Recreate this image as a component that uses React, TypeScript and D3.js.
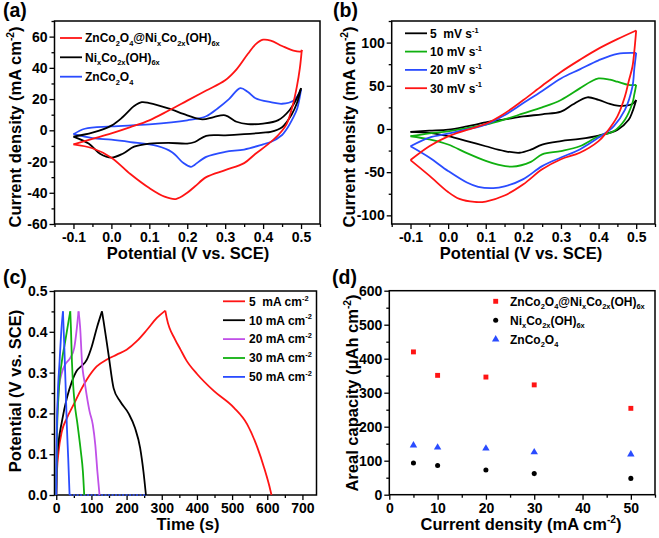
import React, { useEffect, useRef } from 'react';
import * as d3 from 'd3';

type Pt = [number, number];

// ---------- (a) CV of three electrodes at same scan rate ----------
const cvCompositeUpper: Pt[] = [[-0.1,-9],[-0.05,-5.5],[0,-2],[0.05,2],[0.1,6.4],[0.15,12.5],[0.2,19],[0.25,25.5],[0.3,32],[0.33,39],[0.36,49],[0.38,55],[0.4,58],[0.42,57.5],[0.45,54],[0.48,51],[0.5,50.5],[0.502,51.5]];
const cvCompositeLower: Pt[] = [[0.502,51.5],[0.497,40],[0.489,28],[0.477,15],[0.462,4],[0.44,-3],[0.41,-9.5],[0.38,-15],[0.35,-21],[0.3,-25.5],[0.25,-30],[0.22,-36],[0.2,-40],[0.17,-44],[0.14,-42.5],[0.1,-37],[0.05,-28],[0,-17.5],[-0.05,-11.5],[-0.1,-9]];
const cvNiCoUpper: Pt[] = [[-0.1,-4],[-0.05,-1.5],[0,3],[0.03,8.5],[0.06,15.5],[0.08,18],[0.1,17.4],[0.15,14],[0.2,9.6],[0.24,7],[0.27,8.5],[0.3,9.6],[0.33,5.5],[0.36,4],[0.4,4.3],[0.44,6.5],[0.47,13],[0.49,21],[0.5,27]];
const cvNiCoLower: Pt[] = [[0.5,27],[0.49,18],[0.475,10],[0.45,2],[0.42,-1],[0.4,-1.5],[0.35,-2.5],[0.3,-3.2],[0.25,-3.5],[0.22,-7.5],[0.2,-8.5],[0.15,-8],[0.1,-8.5],[0.06,-10.5],[0.03,-15],[0,-17.5],[-0.03,-15],[-0.06,-8.5],[-0.1,-4]];
const cvZnCoUpper: Pt[] = [[-0.1,-2.5],[-0.07,1],[0,2.5],[0.1,3.8],[0.2,6.4],[0.25,9],[0.28,14],[0.31,20],[0.34,27],[0.36,24.5],[0.38,20.5],[0.42,18],[0.45,17],[0.48,19],[0.5,26]];
const cvZnCoLower: Pt[] = [[0.5,26],[0.49,14],[0.48,8.5],[0.46,0],[0.45,-3],[0.42,-7.5],[0.4,-9],[0.35,-12.3],[0.3,-13.8],[0.25,-17],[0.22,-22],[0.21,-23.4],[0.19,-21],[0.16,-14],[0.12,-10],[0.05,-7.5],[0,-6],[-0.05,-5],[-0.1,-2.5]];

// ---------- (b) CV of composite at scan rates ----------
const cv30Upper: Pt[] = [[-0.1,-36],[-0.05,-20],[0,-8.5],[0.05,-1],[0.1,6],[0.15,18],[0.2,33.5],[0.25,50],[0.3,66],[0.35,80],[0.4,93],[0.45,104],[0.5,114]];
const cv30Lower: Pt[] = [[0.5,114],[0.495,90],[0.49,72],[0.48,55],[0.47,37.5],[0.45,14.5],[0.42,-4.6],[0.4,-14],[0.35,-27.5],[0.3,-35],[0.25,-46.7],[0.2,-64],[0.15,-77],[0.1,-84],[0.07,-84.5],[0.03,-81],[0,-73],[-0.05,-54],[-0.1,-36]];
const cv20Upper: Pt[] = [[-0.1,-20],[-0.05,-10],[0,-5.4],[0.05,-0.5],[0.1,5],[0.15,16],[0.2,30],[0.25,44],[0.3,58.5],[0.35,69],[0.4,79.5],[0.45,87],[0.5,88]];
const cv20Lower: Pt[] = [[0.5,88],[0.495,70],[0.49,49],[0.47,22],[0.44,3],[0.4,-10],[0.35,-23.7],[0.3,-33],[0.25,-43],[0.2,-58],[0.15,-66.5],[0.12,-68.5],[0.08,-67],[0.05,-62],[0,-48.6],[-0.05,-33],[-0.1,-20]];
const cv10Upper: Pt[] = [[-0.1,-8.4],[-0.05,-5],[0,-2.7],[0.05,1],[0.1,5],[0.15,11],[0.2,18],[0.25,25],[0.3,33.6],[0.35,47],[0.38,55],[0.4,58.5],[0.43,57],[0.45,54.7],[0.48,51],[0.5,51]];
const cv10Lower: Pt[] = [[0.5,51],[0.495,40],[0.49,30],[0.47,10.7],[0.44,-2.7],[0.4,-8.4],[0.35,-20],[0.3,-25.6],[0.25,-29.4],[0.22,-38],[0.17,-43.6],[0.13,-41],[0.1,-37],[0.05,-28],[0,-18],[-0.05,-12],[-0.1,-8.4]];
const cv5Upper: Pt[] = [[-0.1,-3.4],[-0.05,-2],[0,-0.8],[0.05,3],[0.1,7.6],[0.15,11],[0.2,14.5],[0.25,17],[0.3,20],[0.33,28],[0.37,36.7],[0.4,33.6],[0.43,29],[0.45,27],[0.47,27],[0.49,29],[0.5,33.6]];
const cv5Lower: Pt[] = [[0.5,33.6],[0.49,20],[0.48,10.7],[0.45,-1],[0.4,-7.6],[0.35,-11.5],[0.3,-14],[0.25,-18],[0.22,-24],[0.19,-27.5],[0.15,-25.6],[0.1,-20],[0.05,-14],[0,-8.4],[-0.05,-4.6],[-0.1,-3.4]];

// ---------- (c) galvanostatic charge / discharge ----------
const gcd5Charge: Pt[] = [[0,0],[2,0.057],[6.6,0.106],[16,0.156],[30,0.188],[49,0.221],[68,0.254],[87,0.283],[115,0.315],[144,0.332],[172,0.344],[200,0.356],[229,0.377],[258,0.405],[286,0.434],[310,0.452]];
const gcd5Discharge: Pt[] = [[310,0.452],[314,0.434],[338,0.381],[353,0.357],[370,0.33],[401,0.296],[448,0.255],[505,0.214],[543,0.173],[572,0.116],[591,0.067],[605,0.025],[612,0]];
const gcd10Charge: Pt[] = [[0,0],[2,0.09],[6.6,0.131],[16,0.18],[30,0.237],[44.5,0.278],[58.7,0.305],[73,0.317],[87,0.332],[101,0.364],[115.5,0.41],[130,0.45]];
const gcd10Discharge: Pt[] = [[130,0.45],[134.5,0.426],[148.7,0.344],[163,0.262],[182,0.229],[205.5,0.2],[224,0.164],[238.6,0.115],[248,0.057],[255,0]];
const gcd20Charge: Pt[] = [[0,0],[1,0.1],[2,0.17],[6.6,0.254],[16,0.3],[25.6,0.32],[39.8,0.336],[51,0.36],[58.7,0.41],[63.4,0.45]];
const gcd20Discharge: Pt[] = [[63.4,0.45],[68,0.41],[73,0.328],[82,0.27],[94.7,0.205],[104,0.172],[111,0.123],[117,0.057],[123,0]];
const gcd30Charge: Pt[] = [[0,0],[1,0.08],[2,0.147],[6.6,0.246],[16,0.328],[25.6,0.377],[35,0.426],[39.8,0.45]];
const gcd30Discharge: Pt[] = [[39.8,0.45],[41.7,0.41],[44.5,0.328],[51,0.237],[60.6,0.172],[70,0.106],[75.8,0.057],[79.5,0]];
const gcd50Charge: Pt[] = [[0,0],[1,0.12],[3.8,0.23],[9.5,0.328],[14.2,0.4],[19,0.45]];
const gcd50Discharge: Pt[] = [[19,0.45],[22.7,0.369],[26.5,0.27],[30,0.172],[34,0.09],[37.9,0]];
const gcd50Baseline: Pt[] = [[37.9,0],[258,0]];

// ---------- (d) areal capacity ----------
const currentDensity = [5, 10, 20, 30, 50];
const capComposite = [420, 351, 346, 323, 254];
const capNiCo = [93, 86, 72.5, 62, 48];
const capZnCo = [145, 139, 136, 125, 119];

// ---------- tick values ----------
const cvXTicks = [-0.1, 0, 0.1, 0.2, 0.3, 0.4, 0.5];
const cvXMinor = [-0.15, -0.05, 0.05, 0.15, 0.25, 0.35, 0.45, 0.55];
const aYTicks = [-60, -40, -20, 0, 20, 40, 60];
const aYMinor = [-50, -30, -10, 10, 30, 50, 70];
const bYTicks = [-100, -50, 0, 50, 100];
const bYMinor = [-75, -25, 25, 75, 125];
const cXTicks = [0, 100, 200, 300, 400, 500, 600, 700];
const cXMinor = [50, 150, 250, 350, 450, 550, 650];
const cYTicks = [0, 0.1, 0.2, 0.3, 0.4, 0.5];
const cYMinor = [0.05, 0.15, 0.25, 0.35, 0.45];
const dXTicks = [0, 10, 20, 30, 40, 50];
const dXMinor = [5, 15, 25, 35, 45, 55];
const dYTicks = [0, 100, 200, 300, 400, 500, 600];
const dYMinor = [50, 150, 250, 350, 450, 550];

type Part = [string, ('sub' | 'sup' | '')?];
const lblComposite: Part[] = [['ZnCo'], ['2', 'sub'], ['O'], ['4', 'sub'], ['@Ni'], ['x', 'sub'], ['Co'], ['2x', 'sub'], ['(OH)'], ['6x', 'sub']];
const lblNiCo: Part[] = [['Ni'], ['x', 'sub'], ['Co'], ['2x', 'sub'], ['(OH)'], ['6x', 'sub']];
const lblZnCo: Part[] = [['ZnCo'], ['2', 'sub'], ['O'], ['4', 'sub']];
const scanRateLabels: Part[][] = [
  [['5  mV s'], ['-1', 'sup']],
  [['10 mV s'], ['-1', 'sup']],
  [['20 mV s'], ['-1', 'sup']],
  [['30 mV s'], ['-1', 'sup']],
];
const currentLabels: Part[][] = [
  [['5  mA cm'], ['-2', 'sup']],
  [['10 mA cm'], ['-2', 'sup']],
  [['20 mA cm'], ['-2', 'sup']],
  [['30 mA cm'], ['-2', 'sup']],
  [['50 mA cm'], ['-2', 'sup']],
];
const titleCurrent: Part[] = [['Current density (mA cm'], ['-2', 'sup'], [')']];
const titlePotential: Part[] = [['Potential (V vs. SCE)']];
const titleTime: Part[] = [['Time (s)']];
const titleAreal: Part[] = [['Areal capacity (\u03bcAh cm'], ['-2', 'sup'], [')']];

const FONT = '"Liberation Sans", Arial, Helvetica, sans-serif';
const RED = '#ff1414';
const BLUE = '#2a4cff';
const GREEN = '#10b010';
const PURPLE = '#c050e8';
const BLACK = '#000000';

function rich(sel: any, parts: Part[], fs: number) {
  let cur = 0;
  parts.forEach(([t, kind]) => {
    const target = kind === 'sub' ? fs * 0.32 : kind === 'sup' ? -fs * 0.42 : 0;
    const ts = sel.append('tspan').text(t).attr('dy', target - cur);
    if (kind) ts.attr('font-size', fs * 0.62);
    cur = target;
  });
}

interface Frame { x0: number; x1: number; y0: number; y1: number; }

function drawAxes(svg: any, f: Frame, xd: [number, number], yd: [number, number],
  xt: number[], xm: number[], yt: number[], ym: number[],
  xf: (v: number) => string, yf: (v: number) => string) {
  const x = d3.scaleLinear().domain(xd).range([f.x0, f.x1]);
  const y = d3.scaleLinear().domain(yd).range([f.y0, f.y1]);
  const style = (g: any) => {
    g.select('.domain').remove();
    g.attr('font-size', 14).attr('font-family', FONT).attr('font-weight', 'bold');
    g.selectAll('text').attr('fill', '#000');
    g.selectAll('line').attr('stroke', '#000').attr('stroke-width', 1.3);
  };
  svg.append('g').attr('transform', `translate(0,${f.y0})`)
    .call(d3.axisBottom(x).tickValues(xt).tickSize(5).tickPadding(3).tickFormat(xf as any)).call(style);
  svg.append('g').attr('transform', `translate(0,${f.y0})`)
    .call(d3.axisBottom(x).tickValues(xm).tickSize(3).tickFormat(() => '')).call(style);
  svg.append('g').attr('transform', `translate(${f.x0},0)`)
    .call(d3.axisLeft(y).tickValues(yt).tickSize(5).tickPadding(2).tickFormat(yf as any)).call(style);
  svg.append('g').attr('transform', `translate(${f.x0},0)`)
    .call(d3.axisLeft(y).tickValues(ym).tickSize(3).tickFormat(() => '')).call(style);
  svg.append('rect').attr('x', f.x0).attr('y', f.y1).attr('width', f.x1 - f.x0).attr('height', f.y0 - f.y1)
    .attr('fill', 'none').attr('stroke', '#000').attr('stroke-width', 1.5);
  return { x, y };
}

function title(svg: any, parts: Part[], cx: number, cy: number, rotate: boolean, fs = 16.5) {
  const t = svg.append('text').attr('font-family', FONT).attr('font-weight', 'bold').attr('font-size', fs)
    .attr('text-anchor', 'middle').attr('fill', '#000');
  if (rotate) t.attr('transform', `translate(${cx},${cy}) rotate(-90)`);
  else t.attr('x', cx).attr('y', cy);
  rich(t, parts, fs);
}

function legendText(svg: any, parts: Part[], x: number, y: number, fs = 12) {
  const t = svg.append('text').attr('font-family', FONT).attr('font-weight', 'bold').attr('font-size', fs)
    .attr('x', x).attr('y', y + fs * 0.36).attr('fill', '#000').style('white-space', 'pre');
  rich(t, parts, fs);
}

export default function App() {
  const ref = useRef<SVGSVGElement | null>(null);
  useEffect(() => {
    const svg = d3.select(ref.current);
    svg.selectAll('*').remove();
    const f1 = (v: number) => v.toFixed(1);
    const f0 = (v: number) => String(v);

    const drawLine = (x: any, y: any, data: Pt[], color: string, curve: any, w = 1.8, dash?: string) => {
      const l = d3.line<Pt>().x(d => x(d[0])).y(d => y(d[1])).curve(curve);
      const p = svg.append('path').attr('d', l(data) as string).attr('fill', 'none')
        .attr('stroke', color).attr('stroke-width', w).attr('stroke-linejoin', 'round');
      if (dash) p.attr('stroke-dasharray', dash);
    };
    const cr = d3.curveCatmullRom.alpha(0.5);
    const mono = d3.curveMonotoneX;

    // ----- panel labels -----
    [['(a)', 3, 17], ['(b)', 333, 17], ['(c)', 3, 284], ['(d)', 332, 284]].forEach(([t, x, y]) => {
      svg.append('text').text(t as string).attr('x', x as number).attr('y', y as number)
        .attr('font-family', FONT).attr('font-weight', 'bold').attr('font-size', 19.5).attr('fill', '#000');
    });

    // ----- (a) -----
    {
      const fA: Frame = { x0: 54.5, x1: 320, y0: 224, y1: 21 };
      const { x, y } = drawAxes(svg, fA, [-0.15, 0.55], [-60, 70], cvXTicks, cvXMinor, aYTicks, aYMinor, f1, f0);
      drawLine(x, y, cvZnCoUpper, BLUE, cr); drawLine(x, y, cvZnCoLower, BLUE, cr);
      drawLine(x, y, cvNiCoUpper, BLACK, cr); drawLine(x, y, cvNiCoLower, BLACK, cr);
      drawLine(x, y, cvCompositeUpper, RED, cr); drawLine(x, y, cvCompositeLower, RED, cr);
      const rows = [38, 57.3, 76.7];
      const cols = [RED, BLACK, BLUE];
      const labs = [lblComposite, lblNiCo, lblZnCo];
      rows.forEach((ry, i) => {
        svg.append('line').attr('x1', 60).attr('x2', 82).attr('y1', ry).attr('y2', ry)
          .attr('stroke', cols[i]).attr('stroke-width', 1.8);
        legendText(svg, labs[i], 85, ry);
      });
      title(svg, titlePotential, 188, 259, false);
      title(svg, titleCurrent, 21, 127, true);
    }

    // ----- (b) -----
    {
      const fB: Frame = { x0: 391.7, x1: 655, y0: 224, y1: 21 };
      const { x, y } = drawAxes(svg, fB, [-0.15, 0.55], [-110, 125], cvXTicks, cvXMinor, bYTicks, bYMinor, f1, f0);
      drawLine(x, y, cv5Upper, BLACK, cr); drawLine(x, y, cv5Lower, BLACK, cr);
      drawLine(x, y, cv10Upper, GREEN, cr); drawLine(x, y, cv10Lower, GREEN, cr);
      drawLine(x, y, cv20Upper, BLUE, cr); drawLine(x, y, cv20Lower, BLUE, cr);
      drawLine(x, y, cv30Upper, RED, cr); drawLine(x, y, cv30Lower, RED, cr);
      const rows = [33.3, 51.6, 69.9, 88.2];
      const cols = [BLACK, GREEN, BLUE, RED];
      rows.forEach((ry, i) => {
        svg.append('line').attr('x1', 405).attr('x2', 427).attr('y1', ry).attr('y2', ry)
          .attr('stroke', cols[i]).attr('stroke-width', 1.8);
        legendText(svg, scanRateLabels[i], 430, ry);
      });
      title(svg, titlePotential, 521, 259, false);
      title(svg, titleCurrent, 355, 127, true);
    }

    // ----- (c) -----
    {
      const fC: Frame = { x0: 54.5, x1: 316.5, y0: 495, y1: 291 };
      const { x, y } = drawAxes(svg, fC, [-5, 740], [0, 0.5], cXTicks, cXMinor, cYTicks, cYMinor, f0, f1);
      drawLine(x, y, gcd50Baseline, BLUE, d3.curveLinear, 1.4, '2,1.5');
      drawLine(x, y, gcd5Charge, RED, mono); drawLine(x, y, gcd5Discharge, RED, mono);
      drawLine(x, y, gcd10Charge, BLACK, mono); drawLine(x, y, gcd10Discharge, BLACK, mono);
      drawLine(x, y, gcd20Charge, PURPLE, mono); drawLine(x, y, gcd20Discharge, PURPLE, mono);
      drawLine(x, y, gcd30Charge, GREEN, mono); drawLine(x, y, gcd30Discharge, GREEN, mono);
      drawLine(x, y, gcd50Charge, BLUE, mono); drawLine(x, y, gcd50Discharge, BLUE, mono);
      const rows = [301.3, 320.2, 339.1, 358, 376.9];
      const cols = [RED, BLACK, PURPLE, GREEN, BLUE];
      rows.forEach((ry, i) => {
        svg.append('line').attr('x1', 223).attr('x2', 245).attr('y1', ry).attr('y2', ry)
          .attr('stroke', cols[i]).attr('stroke-width', 1.8);
        legendText(svg, currentLabels[i], 249, ry);
      });
      title(svg, titleTime, 188, 530, false);
      title(svg, titlePotential, 21, 391, true);
    }

    // ----- (d) -----
    {
      const fD: Frame = { x0: 389.3, x1: 655, y0: 494.7, y1: 290.7 };
      const { x, y } = drawAxes(svg, fD, [0, 55], [0, 600], dXTicks, dXMinor, dYTicks, dYMinor, f0, f0);
      const sq = d3.symbol().type(d3.symbolSquare).size(24)();
      const ci = d3.symbol().type(d3.symbolCircle).size(20)();
      const tr = d3.symbol().type(d3.symbolTriangle).size(24)();
      const plot = (vals: number[], path: string | null, color: string) => {
        currentDensity.forEach((c, i) => {
          svg.append('path').attr('d', path as string).attr('fill', color)
            .attr('transform', `translate(${x(c)},${y(vals[i])})`);
        });
      };
      plot(capComposite, sq, RED);
      plot(capNiCo, ci, BLACK);
      plot(capZnCo, tr, BLUE);
      const rows = [301.3, 320.3, 339.3];
      const syms = [sq, ci, tr];
      const cols = [RED, BLACK, BLUE];
      const labs = [lblComposite, lblNiCo, lblZnCo];
      rows.forEach((ry, i) => {
        svg.append('path').attr('d', syms[i] as string).attr('fill', cols[i]).attr('transform', `translate(495.7,${ry})`);
        legendText(svg, labs[i], 510, ry);
      });
      title(svg, [['Current density (mA cm'], ['-2', 'sup'], [')']], 521, 530, false);
      title(svg, titleAreal, 358, 393, true);
    }
  }, []);
  return (
    <svg ref={ref} width={659} height={538} viewBox="0 0 659 538"
      style={{ position: 'absolute', left: 0, top: 0, background: '#fff' }} />
  );
}
